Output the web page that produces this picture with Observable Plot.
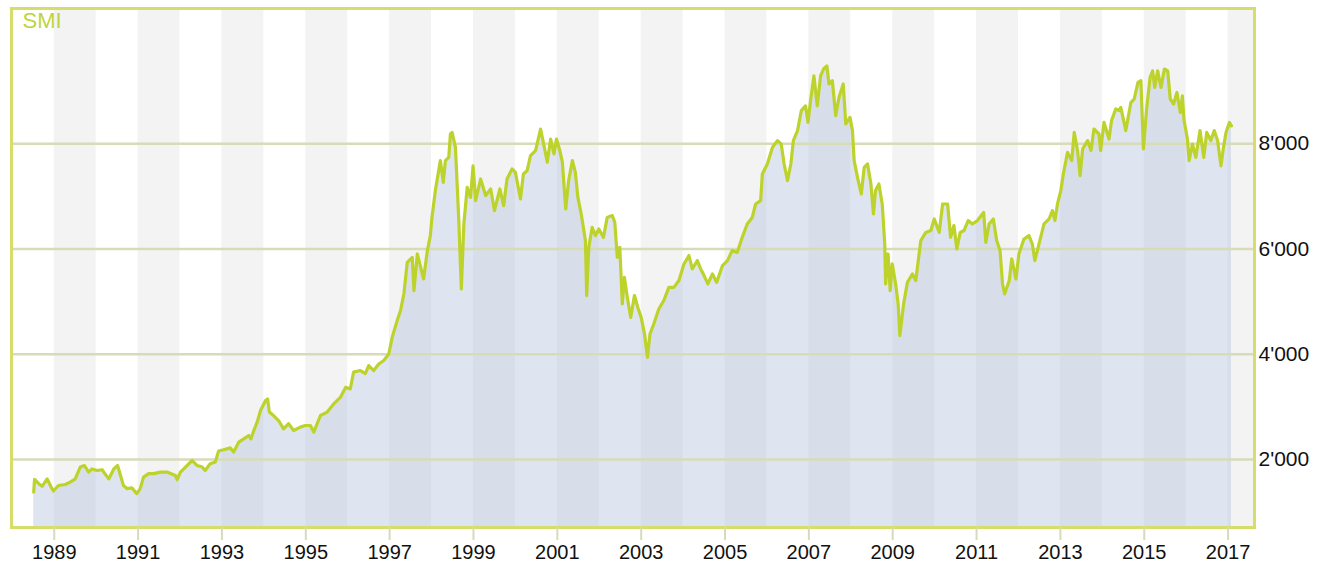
<!DOCTYPE html>
<html>
<head>
<meta charset="utf-8">
<script src="https://cdn.jsdelivr.net/npm/d3@7"></script>
<script src="https://cdn.jsdelivr.net/npm/@observablehq/plot@0.6"></script>
<style>
html, body { margin: 0; padding: 0; background: #ffffff; }
#chart { width: 1318px; height: 565px; }
</style>
</head>
<body>
<div id="chart"></div>
<script>
// Series title
const title = "SMI";

// Dates as decimal years
const dates = [
1988.51,1988.53,1988.63,1988.71,1988.83,1988.95,1988.98,1989.10,1989.26,1989.38,1989.50,1989.62,1989.72,1989.82,1989.90,
1990.02,1990.14,1990.30,1990.42,1990.51,1990.58,1990.65,1990.74,1990.85,1990.97,1991.05,1991.13,1991.25,1991.37,1991.53,
1991.69,1991.89,1991.93,1992.01,1992.13,1992.29,1992.41,1992.53,1992.60,1992.72,1992.84,1992.92,1993.04,1993.20,1993.28,
1993.40,1993.52,1993.64,1993.69,1993.76,1993.84,1993.92,1994.04,1994.09,1994.13,1994.23,1994.35,1994.47,1994.59,1994.71,
1994.87,1994.99,1995.11,1995.19,1995.35,1995.51,1995.67,1995.83,1995.95,1996.06,1996.14,1996.30,1996.42,1996.50,1996.62,
1996.74,1996.86,1996.98,1997.06,1997.18,1997.26,1997.34,1997.42,1997.54,1997.58,1997.66,1997.74,1997.81,1997.90,1997.97,
1998.01,1998.09,1998.21,1998.28,1998.33,1998.41,1998.45,1998.49,1998.57,1998.65,1998.71,1998.77,1998.85,1998.93,1998.99,
1999.05,1999.17,1999.29,1999.41,1999.50,1999.63,1999.72,1999.80,1999.92,2000.00,2000.12,2000.19,2000.28,2000.36,2000.48,
2000.60,2000.69,2000.76,2000.84,2000.92,2000.98,2001.06,2001.12,2001.20,2001.27,2001.36,2001.43,2001.49,2001.57,2001.67,
2001.70,2001.75,2001.83,2001.91,2001.99,2002.10,2002.19,2002.31,2002.37,2002.43,2002.49,2002.55,2002.60,2002.67,2002.75,
2002.84,2002.92,2003.00,2003.08,2003.15,2003.21,2003.30,2003.42,2003.54,2003.66,2003.78,2003.90,2004.02,2004.14,2004.22,
2004.34,2004.42,2004.50,2004.59,2004.70,2004.80,2004.94,2005.06,2005.17,2005.29,2005.41,2005.53,2005.65,2005.73,2005.85,
2005.89,2006.01,2006.13,2006.25,2006.34,2006.41,2006.49,2006.57,2006.63,2006.73,2006.82,2006.92,2006.98,2007.04,2007.12,
2007.20,2007.28,2007.35,2007.43,2007.48,2007.56,2007.64,2007.72,2007.82,2007.88,2007.98,2008.04,2008.08,2008.16,2008.25,
2008.32,2008.40,2008.48,2008.54,2008.59,2008.67,2008.75,2008.81,2008.83,2008.89,2008.94,2008.99,2009.07,2009.13,2009.17,
2009.26,2009.35,2009.47,2009.55,2009.67,2009.79,2009.91,2009.99,2010.05,2010.11,2010.19,2010.31,2010.38,2010.46,2010.53,
2010.61,2010.70,2010.80,2010.90,2011.02,2011.17,2011.22,2011.30,2011.40,2011.48,2011.56,2011.62,2011.67,2011.78,2011.84,
2011.94,2012.01,2012.13,2012.25,2012.33,2012.39,2012.49,2012.61,2012.73,2012.81,2012.87,2012.93,2013.01,2013.07,2013.17,
2013.27,2013.33,2013.41,2013.47,2013.53,2013.65,2013.73,2013.80,2013.92,2013.96,2014.04,2014.16,2014.22,2014.32,2014.40,
2014.44,2014.56,2014.68,2014.76,2014.85,2014.92,2014.98,2015.06,2015.14,2015.20,2015.25,2015.32,2015.40,2015.48,2015.56,
2015.62,2015.70,2015.78,2015.86,2015.91,2015.95,2016.03,2016.07,2016.15,2016.23,2016.33,2016.42,2016.49,2016.59,2016.67,
2016.75,2016.83,2016.89,2016.95,2017.03,2017.08
];

// SMI index values
const smi = [
1380,1620,1540,1490,1630,1440,1400,1505,1525,1570,1630,1855,1885,1760,1820,
1790,1805,1630,1820,1885,1695,1505,1445,1460,1350,1445,1665,1730,1730,1760,
1760,1695,1615,1760,1855,1980,1885,1855,1790,1920,1950,2160,2185,2220,2140,
2330,2390,2455,2390,2550,2710,2930,3120,3150,2900,2835,2740,2580,2680,2550,
2615,2645,2645,2520,2835,2900,3060,3185,3370,3340,3660,3690,3630,3785,3690,
3815,3880,4005,4320,4640,4830,5150,5745,5840,5210,5905,5650,5430,5970,6250,
6600,7110,7680,7265,7680,7740,8185,8215,7930,6540,5240,6475,7170,6980,7580,
6920,7330,7015,7140,6730,7140,6825,7330,7520,7455,6950,7425,7490,7775,7870,
8280,7930,7650,8090,7805,8090,7870,7650,6760,7300,7680,7455,6980,6665,6160,
5115,6030,6410,6255,6380,6220,6600,6635,6505,5840,6030,4955,5460,5080,4700,
5115,4890,4700,4385,3940,4385,4575,4860,5020,5270,5270,5400,5715,5875,5620,
5780,5620,5495,5335,5525,5365,5685,5780,5970,5935,6220,6475,6600,6855,6920,
7425,7615,7930,8060,7995,7615,7300,7615,8060,8250,8630,8720,8405,8820,9290,
8720,9290,9420,9480,9135,9200,8535,8885,9135,8375,8500,8250,7680,7360,7045,
7550,7615,7235,6665,7110,7235,6855,6095,5335,5905,5210,5715,5335,4955,4355,
4955,5365,5525,5400,6160,6315,6350,6570,6445,6315,6855,6855,6220,6445,6000,
6315,6350,6540,6475,6540,6695,6125,6475,6570,6160,5970,5335,5145,5400,5810,
5430,5905,6190,6255,6095,5780,6095,6475,6570,6730,6540,6855,7110,7425,7835,
7680,8215,7870,7395,7900,8060,7870,8280,8185,7870,8405,8090,8440,8660,8630,
8690,8250,8780,8850,9165,9200,7900,8690,9260,9385,9070,9385,9070,9420,9385,
8850,8755,8975,8595,8910,8440,8090,7680,7995,7740,8250,7740,8215,8060,8250,
8060,7580,7930,8215,8405,8340
];

// Axis ticks
const yTicks = [2000, 4000, 6000, 8000];
const xTicks = d3.range(1989, 2018, 2);
const bandYears = d3.range(1989, 2018, 2);

// Scale domains
const xDomain = [1987.98, 2017.63];
const yDomain = [707, 10570];

const data = dates.map((t, i) => ({t, v: smi[i]}));
const fmt = d3.formatLocale({decimal: ".", thousands: "'", grouping: [3], currency: ["", ""]}).format(",");

const chart = Plot.plot({
  width: 1318,
  height: 565,
  marginLeft: 11,
  marginRight: 64,
  marginTop: 8,
  marginBottom: 38,
  x: {domain: xDomain},
  y: {domain: yDomain},
  style: {fontFamily: "'Liberation Sans', Arial, Helvetica, sans-serif", fontSize: "20px", background: "#ffffff", color: "#111"},
  marks: [
    Plot.rect(bandYears, {x1: d => d, x2: d => d + 1, y1: () => yDomain[0], y2: () => yDomain[1], fill: "#f3f3f3", clip: true}),
    Plot.areaY(data, {x: "t", y1: () => yDomain[0], y2: "v", fill: "rgb(184,198,223)", fillOpacity: 0.46}),
    Plot.ruleY(yTicks, {stroke: "#d8dbb8", strokeWidth: 2.5}),
    Plot.line(data, {x: "t", y: "v", stroke: "#bdd32c", strokeWidth: 3.2, strokeLinejoin: "round"}),
    Plot.frame({stroke: "#d6dd6a", strokeWidth: 3}),
    Plot.axisX({ticks: xTicks, tickFormat: d => String(d), tickSize: 13, tickPadding: 4, stroke: "#d8dbb8", strokeWidth: 2, fill: "#111", fontSize: 20, label: null}),
    Plot.axisY({anchor: "right", ticks: yTicks, tickFormat: fmt, tickSize: 0, tickPadding: 4, fill: "#111", fontSize: 21, label: null}),
    Plot.text([title], {frameAnchor: "top-left", text: d => d, dx: 11, dy: 4, fill: "#bfd43a", fontSize: 22, textAnchor: "start", lineAnchor: "top"})
  ]
});
document.getElementById("chart").appendChild(chart);
</script>
</body>
</html>
